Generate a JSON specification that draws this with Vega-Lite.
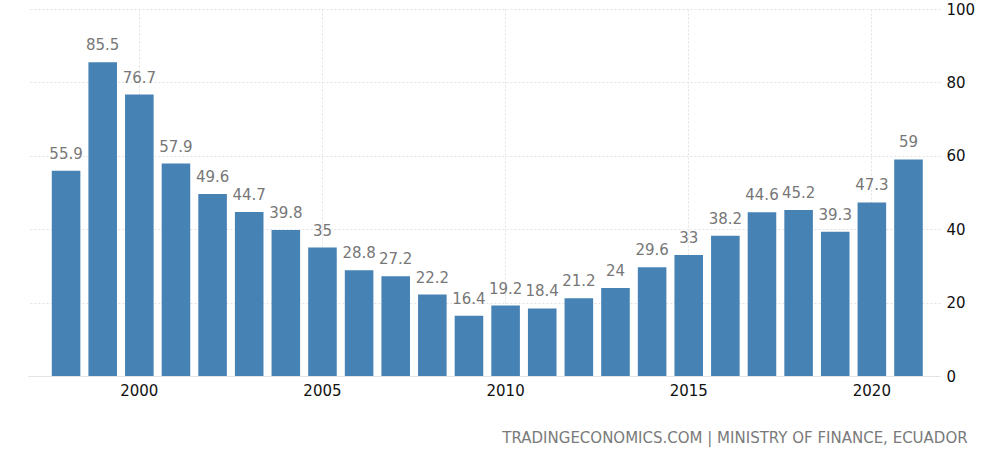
{
  "$schema": "https://vega.github.io/schema/vega-lite/v6.json",
  "width": 912,
  "height": 367,
  "autosize": "none",
  "padding": {"left": 28, "top": 9, "right": 60, "bottom": 77},
  "background": "white",
  "title": {
    "text": "TRADINGECONOMICS.COM | MINISTRY OF FINANCE, ECUADOR",
    "orient": "bottom",
    "anchor": "end",
    "dx": -7,
    "offset": 33,
    "font": "DejaVu Sans",
    "fontSize": 15,
    "fontWeight": "normal",
    "color": "#7a7a7a"
  },
  "data": {
    "values": [
      {"year": 1998, "value": 55.9},
      {"year": 1999, "value": 85.5},
      {"year": 2000, "value": 76.7},
      {"year": 2001, "value": 57.9},
      {"year": 2002, "value": 49.6},
      {"year": 2003, "value": 44.7},
      {"year": 2004, "value": 39.8},
      {"year": 2005, "value": 35},
      {"year": 2006, "value": 28.8},
      {"year": 2007, "value": 27.2},
      {"year": 2008, "value": 22.2},
      {"year": 2009, "value": 16.4},
      {"year": 2010, "value": 19.2},
      {"year": 2011, "value": 18.4},
      {"year": 2012, "value": 21.2},
      {"year": 2013, "value": 24},
      {"year": 2014, "value": 29.6},
      {"year": 2015, "value": 33},
      {"year": 2016, "value": 38.2},
      {"year": 2017, "value": 44.6},
      {"year": 2018, "value": 45.2},
      {"year": 2019, "value": 39.3},
      {"year": 2020, "value": 47.3},
      {"year": 2021, "value": 59}
    ]
  },
  "encoding": {
    "x": {
      "field": "year",
      "type": "ordinal",
      "scale": {"paddingInner": 0.22, "paddingOuter": 0.56, "align": 0.58},
      "axis": {
        "title": null,
        "values": [2000, 2005, 2010, 2015, 2020],
        "bandPosition": 0.5,
        "labelAngle": 0,
        "domain": true,
        "domainColor": "#dddddd",
        "domainDash": [2, 2],
        "ticks": false,
        "grid": true,
        "gridColor": "#e3e3e3",
        "gridDash": [2, 2],
        "labelFont": "DejaVu Sans",
        "labelFontSize": 15,
        "labelColor": "#111111",
        "labelPadding": 7
      }
    },
    "y": {
      "field": "value",
      "type": "quantitative",
      "scale": {"domain": [0, 100], "nice": false},
      "axis": {
        "title": null,
        "orient": "right",
        "values": [0, 20, 40, 60, 80, 100],
        "domain": false,
        "ticks": false,
        "grid": true,
        "gridColor": "#e3e3e3",
        "gridDash": [2, 2],
        "labelFont": "DejaVu Sans",
        "labelFontSize": 15,
        "labelColor": "#111111",
        "labelPadding": 6
      }
    }
  },
  "layer": [
    {
      "mark": {"type": "bar", "color": "#4682b4"}
    },
    {
      "mark": {
        "type": "text",
        "baseline": "bottom",
        "dy": -9,
        "font": "DejaVu Sans",
        "fontSize": 15,
        "color": "#777777"
      },
      "encoding": {"text": {"field": "value", "type": "quantitative"}}
    }
  ],
  "config": {"view": {"stroke": null}}
}
